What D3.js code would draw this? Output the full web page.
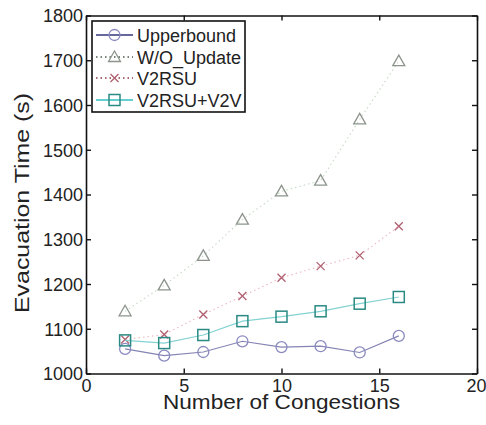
<!DOCTYPE html>
<html>
<head>
<meta charset="utf-8">
<script src="https://cdnjs.cloudflare.com/ajax/libs/d3/7.8.5/d3.min.js"></script>
<style>
  body { margin: 0; background: #fff; }
  svg { display: block; font-family: "Liberation Sans", Arial, sans-serif; }
</style>
</head>
<body>
<svg id="chart" width="486" height="425"></svg>
<script>
const congestions = [2, 4, 6, 8, 10, 12, 14, 16];
const upperbound = [1055, 1040, 1048, 1072, 1059, 1061, 1047, 1084];
const wo_update = [1139, 1197, 1263, 1344, 1407, 1431, 1568, 1698];
const v2rsu = [1076, 1087, 1132, 1173, 1214, 1240, 1264, 1329];
const v2rsu_v2v = [1074, 1068, 1086, 1117, 1127, 1139, 1156, 1171];
const x_ticks = [0, 5, 10, 15, 20];
const y_ticks = [1000, 1100, 1200, 1300, 1400, 1500, 1600, 1700, 1800];

const series = [
  {name: 'Upperbound', values: upperbound, line: '#8484b4', legendLine: '#34347a', marker: 'circle', mark: '#8a8ac0', dash: null},
  {name: 'W/O_Update', values: wo_update, line: '#cadcca', legendLine: '#4a5a4a', marker: 'triangle', mark: '#8c948c', dash: '1.5,3'},
  {name: 'V2RSU', values: v2rsu, line: '#eebcc4', legendLine: '#8a3a40', marker: 'cross', mark: '#b06070', dash: '1.5,3'},
  {name: 'V2RSU+V2V', values: v2rsu_v2v, line: '#84d2d2', legendLine: '#30c0c0', marker: 'square', mark: '#2a8a84', dash: null}
];

const svg = d3.select("#chart");
const x = d3.scaleLinear().domain([0, 20]).range([86, 477]);
const y = d3.scaleLinear().domain([1000, 1800]).range([373.5, 15.5]);

function draw_marker(g, type, color) {
  if (type === 'circle') {
    g.append("circle").attr("r", 5.5).attr("fill", "none").attr("stroke", color).attr("stroke-width", 1.3);
  } else if (type === 'triangle') {
    g.append("path").attr("d", "M0,-6L6,4.5L-6,4.5Z").attr("fill", "none").attr("stroke", color).attr("stroke-width", 1.3);
  } else if (type === 'cross') {
    g.append("path").attr("d", "M-4,-4L4,4M-4,4L4,-4").attr("fill", "none").attr("stroke", color).attr("stroke-width", 1.3);
  } else {
    g.append("rect").attr("x", -5.5).attr("y", -5.5).attr("width", 11).attr("height", 11)
      .attr("fill", "none").attr("stroke", color).attr("stroke-width", 1.5);
  }
}

// series
const line_gen = d3.line().x(d => x(d[0])).y(d => y(d[1]));
series.forEach(s => {
  const pts = congestions.map((c, i) => [c, s.values[i]]);
  svg.append("path")
    .datum(pts)
    .attr("d", line_gen)
    .attr("fill", "none")
    .attr("stroke", s.line)
    .attr("stroke-width", 1.2)
    .attr("stroke-dasharray", s.dash);
  pts.forEach(p => {
    const g = svg.append("g").attr("transform", `translate(${x(p[0])},${y(p[1])})`);
    draw_marker(g, s.marker, s.mark);
  });
});

// axes (box with inward ticks)
const x_axis = svg.append("g").attr("transform", "translate(0,373.5)")
  .call(d3.axisBottom(x).tickValues(x_ticks).tickFormat(d3.format("d"))
    .tickSizeInner(-5).tickSizeOuter(0).tickPadding(5.5));
const y_axis = svg.append("g").attr("transform", "translate(86,0)")
  .call(d3.axisLeft(y).tickValues(y_ticks).tickFormat(d3.format("d"))
    .tickSizeInner(-5).tickSizeOuter(0).tickPadding(3));
svg.append("g").attr("transform", "translate(0,15.5)")
  .call(d3.axisTop(x).tickValues(x_ticks).tickSizeInner(-5).tickSizeOuter(0).tickFormat(""));
svg.append("g").attr("transform", "translate(477,0)")
  .call(d3.axisRight(y).tickValues(y_ticks).tickSizeInner(-5).tickSizeOuter(0).tickFormat(""));

svg.selectAll(".domain").attr("stroke", "#111").attr("stroke-width", 1.6);
svg.selectAll(".tick line").attr("stroke", "#111").attr("stroke-width", 1.4);
svg.selectAll(".tick text").attr("font-size", 18).attr("fill", "#222").attr("font-family", "Liberation Sans, Arial, sans-serif");
y_axis.selectAll(".tick text").attr("dy", "0.36em");
// keep the last x label inside the window
x_axis.selectAll(".tick text").filter(d => d === 20).attr("text-anchor", "end").attr("x", 9);

// axis labels
svg.append("text")
  .attr("x", 281.5).attr("y", 409)
  .attr("text-anchor", "middle")
  .attr("font-size", 20).attr("fill", "#222")
  .attr("textLength", 237).attr("lengthAdjust", "spacingAndGlyphs")
  .text("Number of Congestions");
svg.append("text")
  .attr("transform", "translate(29,203) rotate(-90)")
  .attr("text-anchor", "middle")
  .attr("font-size", 21).attr("fill", "#222")
  .attr("textLength", 220).attr("lengthAdjust", "spacingAndGlyphs")
  .text("Evacuation Time (s)");

// legend
const legend = svg.append("g");
legend.append("rect")
  .attr("x", 92).attr("y", 21).attr("width", 153).attr("height", 91)
  .attr("fill", "#fff").attr("stroke", "#111").attr("stroke-width", 1.6);
const rows = [35, 57, 78, 100];
series.forEach((s, i) => {
  legend.append("line")
    .attr("x1", 96).attr("x2", 133).attr("y1", rows[i]).attr("y2", rows[i])
    .attr("stroke", s.legendLine).attr("stroke-width", 1.5)
    .attr("stroke-dasharray", s.dash);
  const g = legend.append("g").attr("transform", `translate(114.5,${rows[i]})`);
  draw_marker(g, s.marker, s.mark);
  legend.append("text")
    .attr("x", 137).attr("y", rows[i] + 6.5)
    .attr("font-size", 18).attr("fill", "#222")
    .text(s.name);
});
</script>
</body>
</html>
